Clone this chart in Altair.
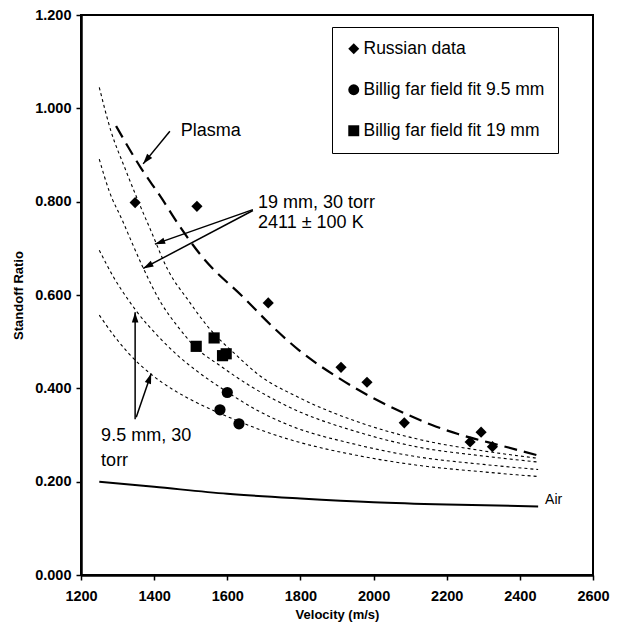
import math
import altair as alt
import pandas as pd

# ---------------- data ----------------
x_ticks = [1200, 1400, 1600, 1800, 2000, 2200, 2400, 2600]
y_ticks = [0.0, 0.2, 0.4, 0.6, 0.8, 1.0, 1.2]

series_names = ["Russian data", "Billig far field fit 9.5 mm", "Billig far field fit 19 mm"]
series_shapes = ["diamond", "circle", "square"]

russian_v = [1348, 1517, 1712, 1911, 1982, 2084, 2264, 2294, 2325]
russian_r = [0.798, 0.790, 0.583, 0.445, 0.413, 0.326, 0.285, 0.306, 0.275]

billig95_v = [1600, 1580, 1632]
billig95_r = [0.391, 0.354, 0.324]

billig19_v = [1515, 1564, 1587, 1597]
billig19_r = [0.490, 0.508, 0.470, 0.474]

# dotted model curves (19 mm pair: A, B ; 9.5 mm pair: C, D)
curve_a_v = [1250, 1282, 1320, 1356, 1391, 1438, 1493, 1547, 1629, 1684, 1794, 1950, 2122, 2300, 2450]
curve_a_r = [1.045, 0.951, 0.872, 0.802, 0.738, 0.653, 0.589, 0.532, 0.468, 0.430, 0.381, 0.330, 0.291, 0.266, 0.250]
curve_b_v = [1250, 1277, 1313, 1340, 1370, 1419, 1465, 1512, 1583, 1665, 1794, 1950, 2122, 2300, 2450]
curve_b_r = [0.891, 0.823, 0.760, 0.711, 0.658, 0.583, 0.532, 0.489, 0.447, 0.404, 0.351, 0.308, 0.274, 0.255, 0.242]
curve_c_v = [1250, 1290, 1329, 1350, 1419, 1465, 1512, 1600, 1684, 1766, 1950, 2122, 2300, 2450]
curve_c_r = [0.696, 0.637, 0.590, 0.567, 0.505, 0.470, 0.440, 0.392, 0.352, 0.322, 0.280, 0.253, 0.237, 0.226]
curve_d_v = [1250, 1290, 1329, 1392, 1450, 1512, 1578, 1629, 1684, 1731, 1794, 1950, 2122, 2300, 2450]
curve_d_r = [0.557, 0.513, 0.476, 0.430, 0.398, 0.371, 0.347, 0.330, 0.313, 0.300, 0.285, 0.257, 0.235, 0.221, 0.211]

plasma_v = [1296, 1364, 1419, 1465, 1528, 1648, 1720, 1794, 1903, 2004, 2086, 2158, 2231, 2350, 2456]
plasma_r = [0.962, 0.872, 0.809, 0.753, 0.685, 0.592, 0.535, 0.483, 0.423, 0.377, 0.346, 0.322, 0.302, 0.277, 0.255]

air_v = [1250, 1400, 1600, 1800, 2000, 2200, 2450]
air_r = [0.200, 0.189, 0.174, 0.164, 0.156, 0.151, 0.147]

# annotations
ann_text = ["Plasma", "19 mm, 30 torr", "2411 \u00b1 100 K", "9.5 mm, 30", "torr"]
ann_v = [1473, 1684, 1684, 1255, 1255]
ann_r = [0.951, 0.797, 0.755, 0.298, 0.245]

air_label = ["Air"]
air_label_v = [2469]
air_label_r = [0.160]

# arrows: start -> tip
arrow_v1 = [1443, 1670, 1670, 1348, 1351]
arrow_r1 = [0.951, 0.783, 0.781, 0.334, 0.338]
arrow_v2 = [1370, 1402, 1370, 1348, 1392]
arrow_r2 = [0.881, 0.709, 0.657, 0.563, 0.432]

# ---------------- layout ----------------
W, H = 512, 560
XD = [1200, 2600]
YD = [0.0, 1.2]
FONT = "Liberation Sans"

kx = W / (XD[1] - XD[0])
ky = H / (YD[1] - YD[0])

pts = pd.concat([
    pd.DataFrame({"series": series_names[0], "v": russian_v, "r": russian_r}),
    pd.DataFrame({"series": series_names[1], "v": billig95_v, "r": billig95_r}),
    pd.DataFrame({"series": series_names[2], "v": billig19_v, "r": billig19_r}),
])

dotted = pd.concat([
    pd.DataFrame({"curve": "A", "v": curve_a_v, "r": curve_a_r}),
    pd.DataFrame({"curve": "B", "v": curve_b_v, "r": curve_b_r}),
    pd.DataFrame({"curve": "C", "v": curve_c_v, "r": curve_c_r}),
    pd.DataFrame({"curve": "D", "v": curve_d_v, "r": curve_d_r}),
])
plasma = pd.DataFrame({"v": plasma_v, "r": plasma_r})
air = pd.DataFrame({"v": air_v, "r": air_r})
ann = pd.DataFrame({"t": ann_text, "v": ann_v, "r": ann_r})
airlab = pd.DataFrame({"t": air_label, "v": air_label_v, "r": air_label_r})

angles = []
for a, b, c, d in zip(arrow_v1, arrow_r1, arrow_v2, arrow_r2):
    dx = (c - a) * kx
    dy = -(d - b) * ky
    angles.append(math.degrees(math.atan2(dx, -dy)) % 360)
arrows = pd.DataFrame({"v1": arrow_v1, "r1": arrow_r1, "v2": arrow_v2, "r2": arrow_r2, "ang": angles})

xs = alt.Scale(domain=XD, nice=False, zero=False)
ys = alt.Scale(domain=YD, nice=False, zero=False)

x_axis = alt.Axis(values=x_ticks, format="d", title="Velocity (m/s)", labelFlush=False,
                  labelFontSize=14.5, labelFontWeight="bold", titleFontSize=13,
                  titleFontWeight="bold", titlePadding=6, labelPadding=9, tickSize=5)
y_axis = alt.Axis(values=y_ticks, format=".3f", title="Standoff Ratio", labelFlush=False,
                  labelFontSize=14.5, labelFontWeight="bold", titleFontSize=13,
                  titleFontWeight="bold", titlePadding=9, labelPadding=5, tickSize=5)

X = alt.X("v:Q", scale=xs, axis=x_axis)
Y = alt.Y("r:Q", scale=ys, axis=y_axis)

dotted_layer = alt.Chart(dotted).mark_line(
    color="black", strokeWidth=1.1, strokeDash=[3, 3], interpolate="monotone"
).encode(x=X, y=Y, detail="curve:N", order="v:Q")

plasma_layer = alt.Chart(plasma).mark_line(
    color="black", strokeWidth=2.2, strokeDash=[13, 7], interpolate="monotone"
).encode(x=X, y=Y, order="v:Q")

air_layer = alt.Chart(air).mark_line(
    color="black", strokeWidth=2, interpolate="monotone"
).encode(x=X, y=Y, order="v:Q")

points_layer = alt.Chart(pts).mark_point(
    filled=True, color="black", opacity=1, size=125
).encode(
    x=X, y=Y,
    shape=alt.Shape("series:N",
                    scale=alt.Scale(domain=series_names, range=series_shapes),
                    legend=alt.Legend(orient="none", legendX=251, legendY=12, title=None,
                                      labelFont=FONT, labelFontSize=17.5, labelColor="black",
                                      labelLimit=400, labelOffset=1, padding=13,
                                      rowPadding=22, symbolSize=120,
                                      symbolFillColor="black", symbolStrokeColor="black",
                                      symbolStrokeWidth=0, strokeColor="black",
                                      fillColor="white"),
                    sort=series_names),
)

rules_layer = alt.Chart(arrows).mark_rule(color="black", strokeWidth=1.5).encode(
    x=alt.X("v1:Q", scale=xs), y=alt.Y("r1:Q", scale=ys),
    x2="v2:Q", y2="r2:Q",
)

heads_layer = alt.Chart(arrows).mark_point(
    filled=True, color="black", opacity=1, size=420,
    shape="M0,0L0.32,1L-0.32,1Z"
).encode(
    x=alt.X("v2:Q", scale=xs), y=alt.Y("r2:Q", scale=ys),
    angle=alt.Angle("ang:Q", scale=None),
)

text_layer = alt.Chart(ann).mark_text(
    align="left", baseline="middle", font=FONT, fontSize=18, color="black"
).encode(x=alt.X("v:Q", scale=xs), y=alt.Y("r:Q", scale=ys), text="t:N")

air_text_layer = alt.Chart(airlab).mark_text(
    align="left", baseline="middle", font=FONT, fontSize=14, color="black"
).encode(x=alt.X("v:Q", scale=xs), y=alt.Y("r:Q", scale=ys), text="t:N")

chart = alt.layer(
    dotted_layer, plasma_layer, air_layer, rules_layer, heads_layer,
    points_layer, text_layer, air_text_layer
).properties(
    width=W, height=H,
    autosize=alt.AutoSizeParams(type="none"),
    padding={"left": 73, "top": 7, "right": 17, "bottom": 49},
    background="white",
).configure_view(
    stroke="black", strokeWidth=2
).configure_axis(
    grid=False, domainColor="black", domainWidth=2.5, tickColor="black", tickWidth=1.5,
    labelColor="black", titleColor="black", labelFont=FONT, titleFont=FONT,
)

chart.save("out.html", embed_options={"renderer": "svg", "actions": False})
